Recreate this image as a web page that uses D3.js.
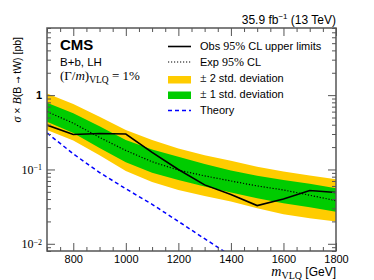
<!DOCTYPE html>
<html><head><meta charset="utf-8">
<script src="https://cdn.jsdelivr.net/npm/d3@7"></script>
<style>body{margin:0;background:#fff}svg{display:block}</style>
</head><body>
<svg id="c" width="374" height="280"></svg>
<script>
const masses   = [700, 800, 900, 1000, 1100, 1200, 1300, 1400, 1500, 1600, 1700, 1800];
const observed = [0.395, 0.295, 0.305, 0.30, 0.17, 0.10, 0.062, 0.046, 0.0327, 0.040, 0.052, 0.049];
const expMed   = [0.60, 0.42, 0.27, 0.18, 0.127, 0.098, 0.082, 0.070, 0.060, 0.053, 0.045, 0.038];
const exp1Up   = [0.79, 0.57, 0.38, 0.25, 0.185, 0.148, 0.118, 0.097, 0.082, 0.072, 0.064, 0.056];
const exp1Dn   = [0.44, 0.31, 0.195, 0.125, 0.09, 0.072, 0.059, 0.049, 0.041, 0.035, 0.031, 0.027];
const exp2Up   = [1.05, 0.76, 0.51, 0.34, 0.25, 0.192, 0.155, 0.131, 0.109, 0.094, 0.083, 0.074];
const exp2Dn   = [0.34, 0.245, 0.155, 0.095, 0.068, 0.053, 0.044, 0.037, 0.030, 0.025, 0.022, 0.020];
const theoryMass = [700, 800, 900, 1000, 1100, 1200, 1300, 1400];
const theory     = [0.31, 0.162, 0.091, 0.055, 0.034, 0.020, 0.0117, 0.0069];
const xTicks = [800, 1000, 1200, 1400, 1600, 1800];
const yTicks = [1, 0.1, 0.01];
const yTickExp = ["", "\u22121", "\u22122"];

const L = 47, R = 336, T = 28, B = 251;
const svg = d3.select("#c");
const x = d3.scaleLinear().domain([700, 1800]).range([L, R]);
const y = d3.scaleLog().domain([0.008, 8]).range([B, T]);

const defs = svg.append("defs");
defs.append("clipPath").attr("id", "clip").append("rect")
  .attr("x", L).attr("y", T).attr("width", R - L).attr("height", B - T);
const plot = svg.append("g").attr("clip-path", "url(#clip)");

const band = (up, dn) => d3.area().x((d, i) => x(masses[i])).y0((d, i) => y(dn[i])).y1((d, i) => y(up[i]))(masses);
plot.append("path").attr("d", band(exp2Up, exp2Dn)).attr("fill", "#ffcc00");
plot.append("path").attr("d", band(exp1Up, exp1Dn)).attr("fill", "#00cc00");
const line = d3.line();
plot.append("path").attr("d", line(masses.map((m, i) => [x(m), y(expMed[i])])))
  .attr("fill", "none").attr("stroke", "#000").attr("stroke-width", 1.2).attr("stroke-dasharray", "1.2,1.8");
plot.append("path").attr("d", line(masses.map((m, i) => [x(m), y(observed[i])])))
  .attr("fill", "none").attr("stroke", "#000").attr("stroke-width", 1.6);
plot.append("path").attr("d", line(theoryMass.map((m, i) => [x(m), y(theory[i])])))
  .attr("fill", "none").attr("stroke", "#0000ff").attr("stroke-width", 1.5).attr("stroke-dasharray", "4,3");

// axes
const minorX = d3.range(700, 1801, 50).filter(v => v % 200 !== 0);
const minorY = [];
[0.001, 0.01, 0.1, 1].forEach(d => { for (let k = 2; k <= 9; k++) { const v = d * k; if (v >= 0.008 && v <= 8) minorY.push(v); } });
const axCol = "#555";
function styleAxis(g) { g.select(".domain").remove(); g.selectAll("line").attr("stroke", axCol).attr("stroke-width", 1); }

svg.append("g").attr("transform", `translate(0,${B})`)
  .call(d3.axisBottom(x).tickValues(xTicks).tickSize(-8).tickSizeOuter(0).tickPadding(4).tickFormat(d3.format("d")))
  .call(styleAxis)
  .call(g => g.selectAll("text").attr("font-family", "Liberation Sans, Arial, sans-serif").attr("font-size", 11).attr("fill", "#000"));
svg.append("g").attr("transform", `translate(0,${B})`)
  .call(d3.axisBottom(x).tickValues(minorX).tickSize(-4).tickFormat("")).call(styleAxis);
svg.append("g").attr("transform", `translate(0,${T})`)
  .call(d3.axisTop(x).tickValues(xTicks).tickSize(-8).tickFormat("")).call(styleAxis);
svg.append("g").attr("transform", `translate(0,${T})`)
  .call(d3.axisTop(x).tickValues(minorX).tickSize(-4).tickFormat("")).call(styleAxis);

const yl = svg.append("g").attr("transform", `translate(${L},0)`)
  .call(d3.axisLeft(y).tickValues(yTicks).tickSize(-8).tickPadding(5).tickFormat(""))
  .call(styleAxis);
yl.selectAll(".tick").each(function (d, i) {
  const t = d3.select(this).select("text")
    .attr("font-family", "Liberation Serif, Times New Roman, serif").attr("font-size", 12).attr("fill", "#000")
    .attr("font-weight", i === 0 ? "bold" : "normal");
  if (i === 0) { t.text("1").attr("font-family", "Liberation Sans, Arial, sans-serif").attr("font-size", 11); }
  else {
    t.text("10");
    t.append("tspan").attr("dy", "-0.45em").attr("font-size", 8).text(yTickExp[i]);
  }
});
svg.append("g").attr("transform", `translate(${L},0)`)
  .call(d3.axisLeft(y).tickValues(minorY).tickSize(-4).tickFormat("")).call(styleAxis);
svg.append("g").attr("transform", `translate(${R},0)`)
  .call(d3.axisRight(y).tickValues(yTicks).tickSize(-8).tickFormat("")).call(styleAxis);
svg.append("g").attr("transform", `translate(${R},0)`)
  .call(d3.axisRight(y).tickValues(minorY).tickSize(-4).tickFormat("")).call(styleAxis);

svg.append("rect").attr("x", L).attr("y", T).attr("width", R - L).attr("height", B - T)
  .attr("fill", "none").attr("stroke", axCol).attr("stroke-width", 1.5);

const sans = "Liberation Sans, Arial, Helvetica, sans-serif";
const serif = "Liberation Serif, Times New Roman, serif";

// titles
const xt = svg.append("text").attr("x", R).attr("y", 276).attr("text-anchor", "end").attr("font-family", sans).attr("font-size", 12);
xt.append("tspan").attr("font-family", serif).attr("font-style", "italic").attr("font-size", 14).text("m");
xt.append("tspan").attr("font-family", serif).attr("font-size", 10).attr("dy", 3).text("VLQ");
xt.append("tspan").attr("dy", -3).text(" [GeV]");

const ytl = svg.append("text").attr("transform", "translate(21,37) rotate(-90)").attr("text-anchor", "end")
  .attr("font-family", sans).attr("font-size", 10.5).attr("fill", "#000");
ytl.append("tspan").attr("font-family", serif).attr("font-style", "italic").attr("font-size", 12).text("\u03c3");
ytl.append("tspan").text(" \u00d7 ");
ytl.append("tspan").attr("font-family", serif).attr("font-style", "italic").attr("font-size", 12).text("B");
ytl.append("tspan").text("(B ");
ytl.append("tspan").attr("font-family", "DejaVu Sans, sans-serif").attr("font-size", 8.5).text("\u2192");
ytl.append("tspan").text(" tW) [pb]");

const lumi = svg.append("text").attr("x", R).attr("y", 24).attr("text-anchor", "end").attr("font-family", sans).attr("font-size", 12);
lumi.append("tspan").text("35.9 fb");
lumi.append("tspan").attr("dy", -5).attr("font-size", 8).text("\u22121");
lumi.append("tspan").attr("dy", 5).text(" (13 TeV)");

svg.append("text").attr("x", 60).attr("y", 50).attr("font-family", sans).attr("font-weight", "bold").attr("font-size", 15).text("CMS");
svg.append("text").attr("x", 60).attr("y", 65.5).attr("font-family", sans).attr("font-size", 11.5).text("B+b, LH");
const gm = svg.append("text").attr("x", 60).attr("y", 80).attr("font-family", serif).attr("font-size", 13);
gm.append("tspan").text("(\u0393/");
gm.append("tspan").attr("font-style", "italic").text("m");
gm.append("tspan").text(")");
gm.append("tspan").attr("dy", 3).attr("font-size", 9.5).text("VLQ");
gm.append("tspan").attr("dy", -3).text(" = 1%");

// legend
const lg = svg.append("g");
const lx0 = 168, lx1 = 191, tx = 200;
lg.append("line").attr("x1", lx0).attr("x2", lx1).attr("y1", 46.5).attr("y2", 46.5).attr("stroke", "#000").attr("stroke-width", 1.6);
lg.append("line").attr("x1", lx0).attr("x2", lx1).attr("y1", 62).attr("y2", 62).attr("stroke", "#000").attr("stroke-width", 1.2).attr("stroke-dasharray", "1.2,1.8");
lg.append("rect").attr("x", lx0).attr("y", 76).attr("width", lx1 - lx0).attr("height", 7.5).attr("fill", "#ffcc00");
lg.append("rect").attr("x", lx0).attr("y", 91.5).attr("width", lx1 - lx0).attr("height", 7.5).attr("fill", "#00cc00");
lg.append("line").attr("x1", lx0).attr("x2", lx1).attr("y1", 110.5).attr("y2", 110.5).attr("stroke", "#0000ff").attr("stroke-width", 1.5).attr("stroke-dasharray", "4,3");
function ltext(yy, parts) {
  const t = lg.append("text").attr("x", tx).attr("y", yy).attr("font-family", sans).attr("font-size", 11);
  parts.forEach(p => t.append("tspan").attr("font-family", p[1] ? serif : sans).attr("font-size", p[1] ? 12 : 11).text(p[0]));
}
ltext(50, [["Obs "], ["95%", 1], [" CL upper limits"]]);
ltext(66, [["Exp "], ["95%", 1], [" CL"]]);
ltext(82, [["\u00b1", 1], [" 2 std. deviation"]]);
ltext(97.5, [["\u00b1", 1], [" 1 std. deviation"]]);
ltext(113.5, [["Theory"]]);
</script>
</body></html>
